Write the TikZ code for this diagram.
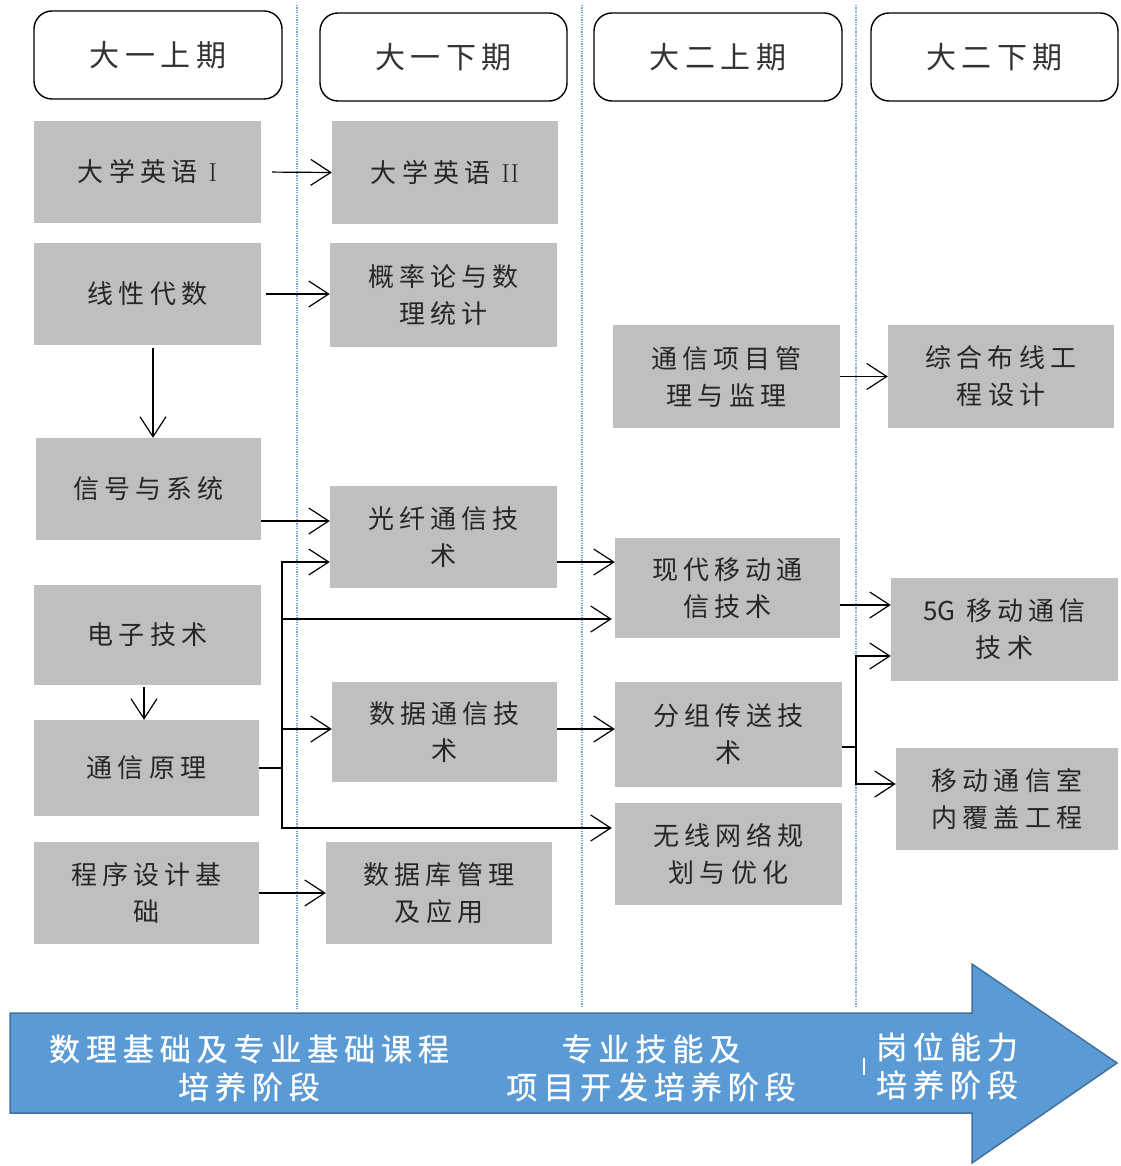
\documentclass[tikz,border=0pt]{standalone}
\usepackage{fontspec}
\newfontfamily\cjk[LetterSpace=20]{Noto Sans CJK SC}
\newfontfamily\cjktight{Noto Sans CJK SC}
\newfontfamily\cjkh[LetterSpace=18]{Noto Sans CJK SC}
\newfontfamily\cjkb[LetterSpace=19,FakeBold=0.8]{Noto Sans CJK SC}
\usetikzlibrary{arrows.meta}
\definecolor{boxgray}{HTML}{BFBFBF}
\definecolor{arrowblue}{HTML}{5B9BD5}
\definecolor{arrowedge}{HTML}{41719C}
\definecolor{dotblue}{HTML}{6FA8DC}
\begin{document}
\begin{tikzpicture}[x=1pt,y=-1pt,
  course/.style={fill=boxgray, draw=none, inner sep=0pt, align=center, font=\cjk\fontsize{26}{37}\selectfont, text=black!85},
  term/.style={draw=black, line width=1.4pt, rounded corners=18pt, fill=white, inner sep=0pt, font=\cjkh\fontsize{30}{34}\selectfont, text=black!80},
  link/.style={line width=1.2pt, -{Straight Barb[length=20pt,width=26pt,line width=1.2pt]}},
  plain/.style={line width=1.2pt},
  divider/.style={dotblue, line width=1.2pt, dash pattern=on 1.2pt off 1.2pt},
  stage/.style={text=white, align=center, font=\cjkb\fontsize{31}{38}\selectfont, inner sep=0pt}
]
\useasboundingbox (0,0) rectangle (1120,1166);

% dividers
\draw[divider] (297,5) -- (297,1010);
\draw[divider] (582,5) -- (582,1008);
\draw[divider] (856,5) -- (856,1008);

% term headers
\node[term, minimum width=248pt, minimum height=88pt] (h1) at (158,55) {大一上期};
\node[term, minimum width=247pt, minimum height=88pt] (h2) at (443.5,57) {大一下期};
\node[term, minimum width=248pt, minimum height=88pt] (h3) at (718,57) {大二上期};
\node[term, minimum width=247pt, minimum height=88pt] (h4) at (994.5,57) {大二下期};

% courses
\node[course, minimum width=227pt, minimum height=102pt] (e1) at (147.5,172) {大学英语 {\rmfamily I}};
\node[course, minimum width=226pt, minimum height=103pt] (e2) at (445,172.5) {大学英语 {\rmfamily II}};
\node[course, minimum width=227pt, minimum height=102pt] (xx) at (147.5,294) {线性代数};
\node[course, minimum width=227pt, minimum height=104pt] (gl) at (443.5,295) {概率论与数\\理统计};
\node[course, minimum width=225pt, minimum height=102pt] (sig) at (148.5,489) {信号与系统};
\node[course, minimum width=227pt, minimum height=102pt] (gx) at (443.5,537) {光纤通信技\\术};
\node[course, minimum width=227pt, minimum height=100pt] (dz) at (147.5,635) {电子技术};
\node[course, minimum width=225pt, minimum height=96pt] (ty) at (146.5,768) {通信原理};
\node[course, minimum width=225pt, minimum height=100pt] (sj) at (444.5,732) {数据通信技\\术};
\node[course, minimum width=225pt, minimum height=102pt] (cx) at (146.5,893) {程序设计基\\础};
\node[course, minimum width=226pt, minimum height=102pt] (sk) at (439,893) {数据库管理\\及应用};
\node[course, minimum width=227pt, minimum height=103pt] (xm) at (726.5,376.5) {通信项目管\\理与监理};
\node[course, minimum width=226pt, minimum height=103pt] (zh) at (1001,376.5) {综合布线工\\程设计};
\node[course, minimum width=225pt, minimum height=100pt] (xd) at (727.5,588) {现代移动通\\信技术};
\node[course, minimum width=227pt, minimum height=105pt] (fz) at (728.5,734.5) {分组传送技\\术};
\node[course, minimum width=227pt, minimum height=102pt] (wx) at (728.5,854) {无线网络规\\划与优化};
\node[course, minimum width=227pt, minimum height=103pt] (g5) at (1004.5,629.5) {{\cjktight 5G} 移动通信\\技术};
\node[course, minimum width=222pt, minimum height=102pt] (sn) at (1007,799) {移动通信室\\内覆盖工程};

% junction points
\coordinate (b1) at (282,768);
\coordinate (b2) at (856,747);

% connectors
\draw[link, shorten <=11pt] (e1.east) -- (e2.west);
\draw[link, shorten <=5pt] (xx.east) -- (xx.east -| gl.west);
\draw[link, shorten <=3pt] ([xshift=5.5pt]xx.south) -- ([xshift=5.5pt]xx.south |- sig.north);
\draw[link] ([yshift=-32pt]sig.east) -- ([yshift=-32pt]sig.east -| gx.west);
\draw[link, shorten <=2pt] ([xshift=-3.5pt]dz.south) -- ([xshift=-3.5pt]dz.south |- ty.north);
\draw[plain] (ty.east) -- (b1);
\draw[link] (b1) |- ([yshift=-25pt]gx.west);
\draw[link] (b1) |- ([yshift=-31pt,xshift=-3pt]xd.west);
\draw[link] (b1) |- ([yshift=3pt]sj.west);
\draw[link] (b1) |- ([yshift=26pt,xshift=-3pt]wx.west);
\draw[link] ([yshift=-25pt]gx.east) -- ([yshift=-25pt]gx.east -| xd.west);
\draw[link] ([yshift=3pt]sj.east) -- ([yshift=3pt]sj.east -| fz.west);
\draw[link] (xm.east) -- (zh.west);
\draw[link] ([yshift=-17pt]xd.east) -- ([yshift=-17pt]xd.east -| g5.west);
\draw[plain] ([yshift=-12.5pt]fz.east) -- (b2);
\draw[link] (b2) |- ([yshift=-26.5pt]g5.west);
\draw[link] (b2) |- ([yshift=15pt]sn.west);
\draw[link] (cx.east) -- (sk.west);

% stage arrow
\draw[fill=arrowblue, draw=arrowedge, line width=1.5pt, line join=miter]
  (10,1013) -- (972,1013) -- (972,964) -- (1117,1063) -- (972,1163) -- (972,1113) -- (10,1113) -- cycle;
\node[stage] (s1) at (249,1068) {数理基础及专业基础课程\\培养阶段};
\node[stage] (s2) at (651,1068) {专业技能及\\项目开发培养阶段};
\node[stage, align=left, anchor=west] (s3) at (876,1066) {岗位能力\\培养阶段};
\draw[white, line width=2pt] (864,1058) -- (864,1075);
\end{tikzpicture}
\end{document}
